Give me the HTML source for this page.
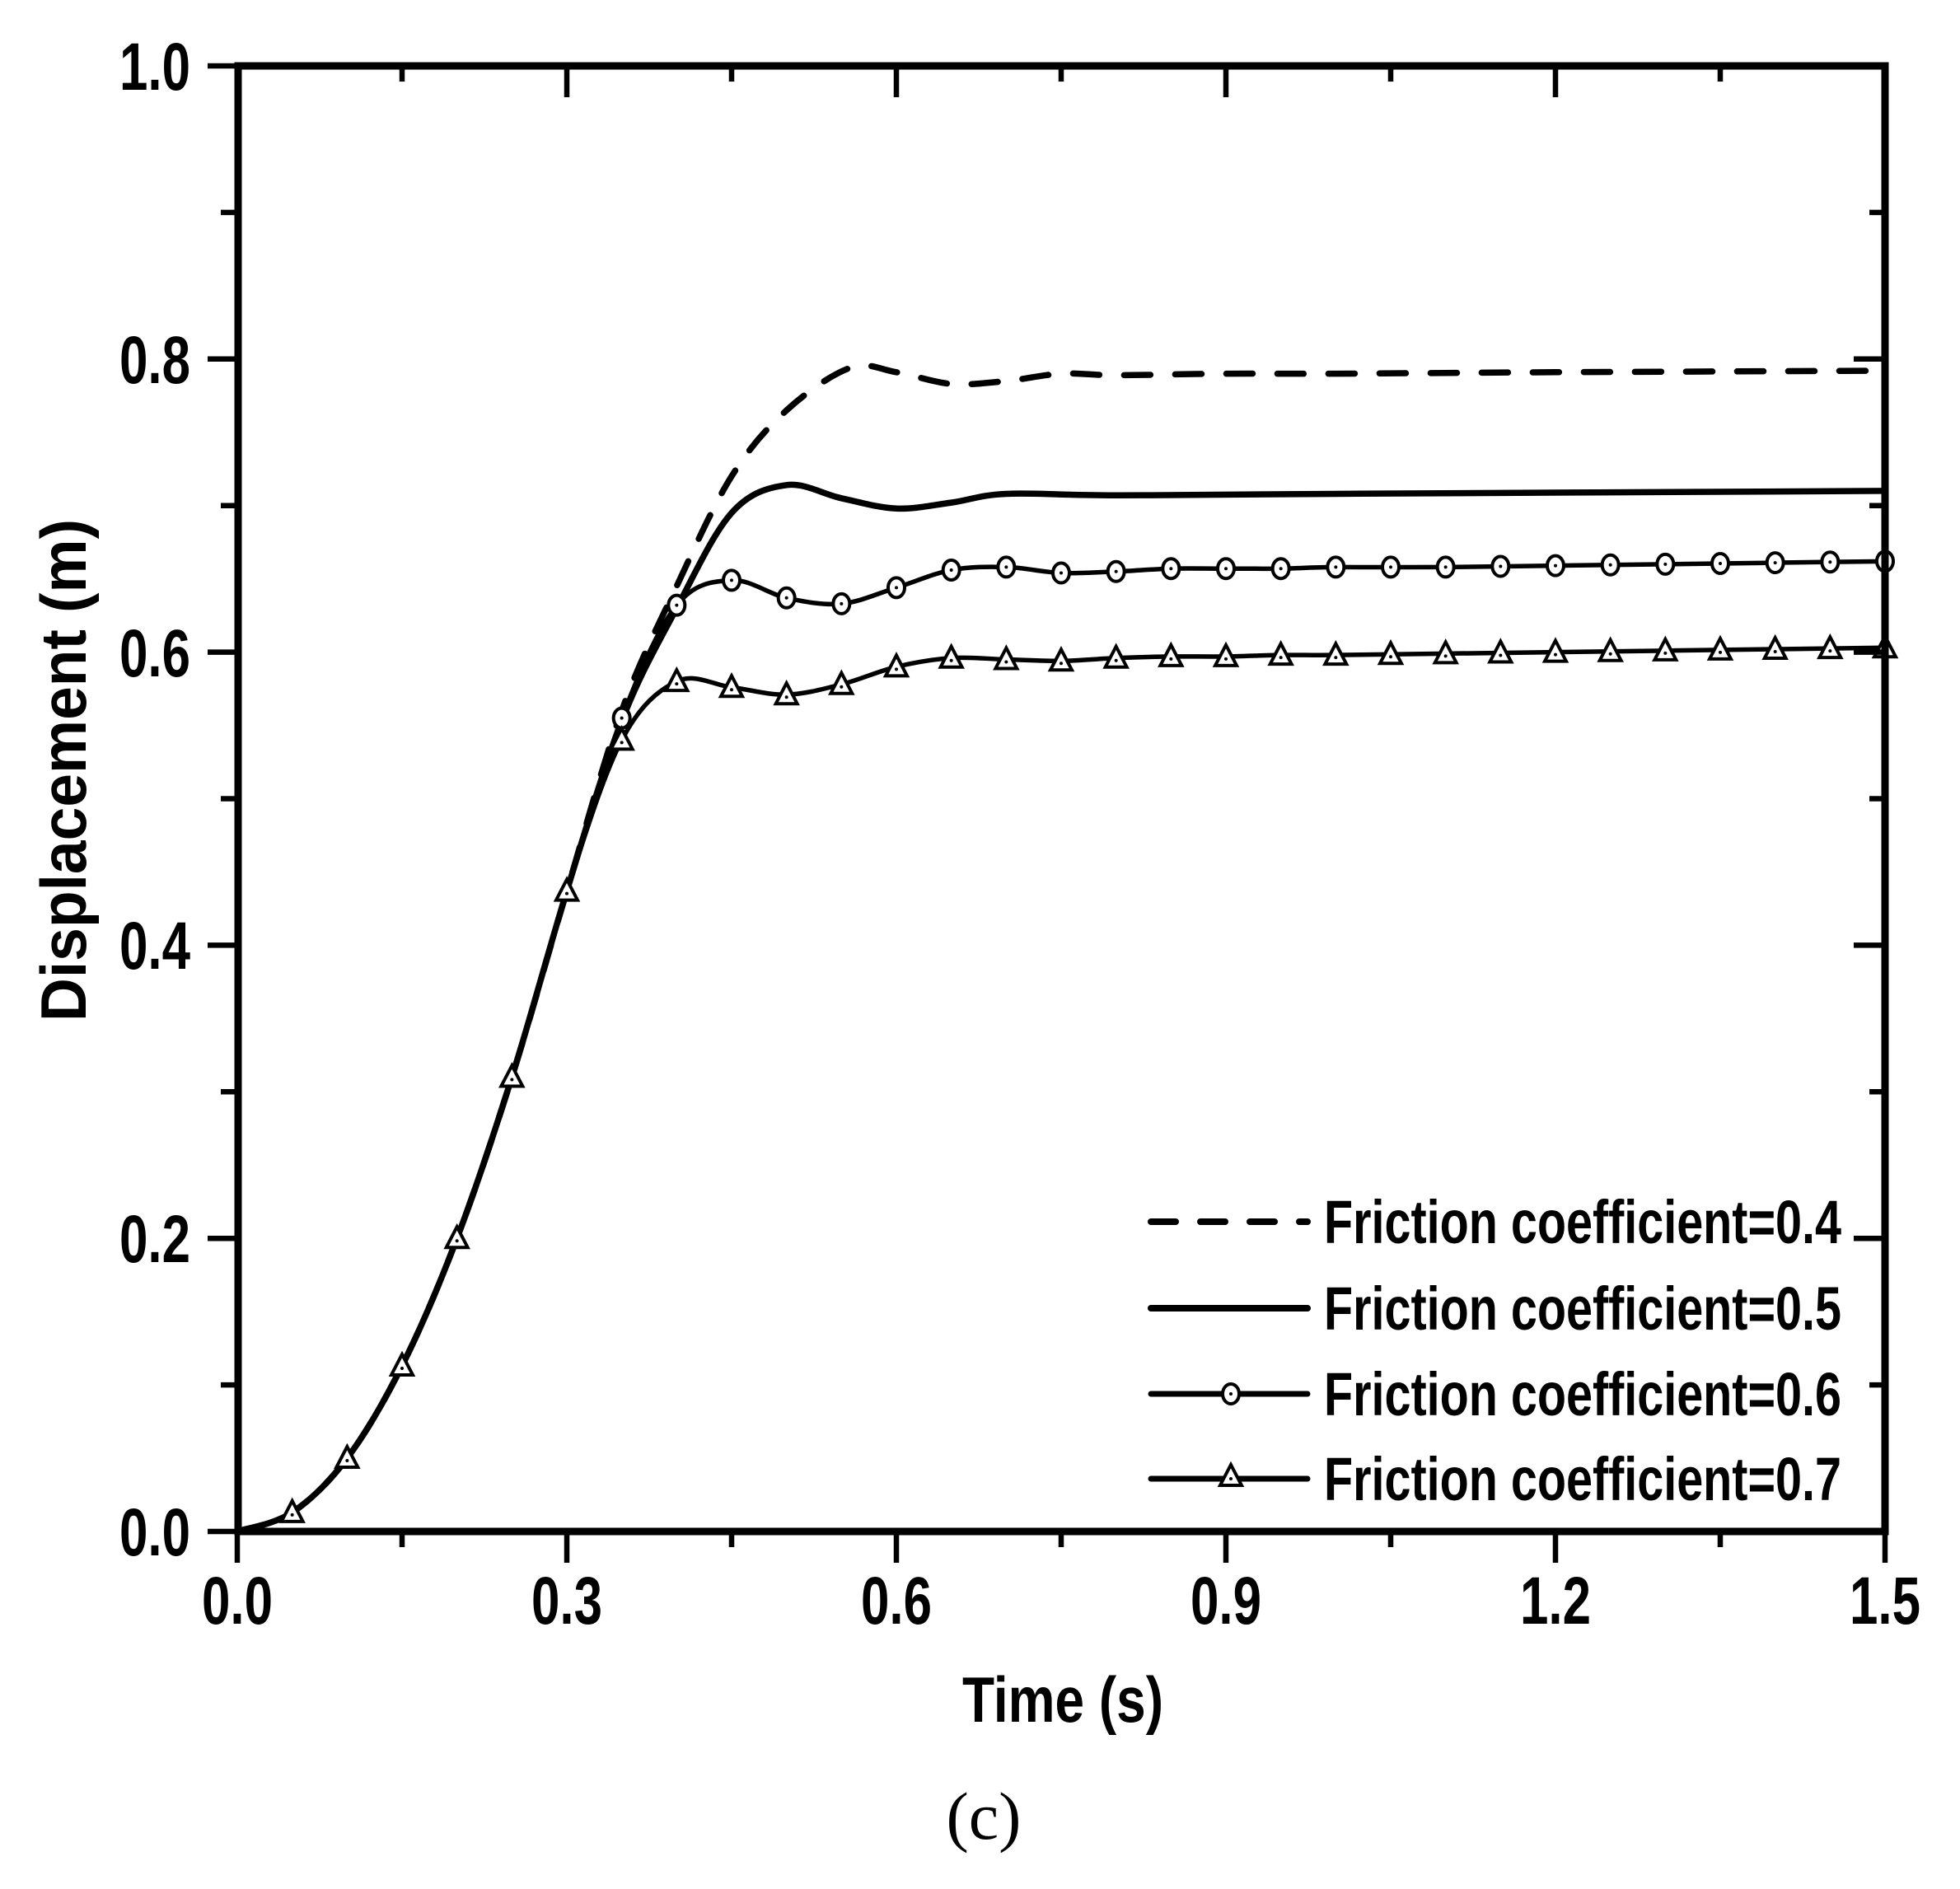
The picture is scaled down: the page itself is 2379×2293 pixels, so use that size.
<!DOCTYPE html>
<html><head><meta charset="utf-8"><style>
html,body{margin:0;padding:0;background:#fff}
svg{display:block}
text{font-family:"Liberation Sans",Arial,sans-serif;font-weight:bold;fill:#000}
</style></head><body>
<svg id="s" width="2379" height="2293" viewBox="0 0 2379 2293" xmlns="http://www.w3.org/2000/svg">
<g id="plot"></g>
<g stroke="#000" stroke-width="9" fill="none" stroke-linecap="square">
<rect x="289" y="80" width="1999" height="1779"/>
</g>
<g id="ticks" stroke="#000" stroke-width="6.5"></g>
<g font-size="82" text-anchor="end">
<text x="231" y="109" textLength="86" lengthAdjust="spacingAndGlyphs">1.0</text>
<text x="231" y="465" textLength="86" lengthAdjust="spacingAndGlyphs">0.8</text>
<text x="231" y="821" textLength="86" lengthAdjust="spacingAndGlyphs">0.6</text>
<text x="231" y="1176" textLength="86" lengthAdjust="spacingAndGlyphs">0.4</text>
<text x="231" y="1532" textLength="86" lengthAdjust="spacingAndGlyphs">0.2</text>
<text x="231" y="1888" textLength="86" lengthAdjust="spacingAndGlyphs">0.0</text>
</g>
<g font-size="82" text-anchor="middle">
<text x="288" y="1971" textLength="86" lengthAdjust="spacingAndGlyphs">0.0</text>
<text x="688" y="1971" textLength="86" lengthAdjust="spacingAndGlyphs">0.3</text>
<text x="1088" y="1971" textLength="86" lengthAdjust="spacingAndGlyphs">0.6</text>
<text x="1488" y="1971" textLength="86" lengthAdjust="spacingAndGlyphs">0.9</text>
<text x="1888" y="1971" textLength="86" lengthAdjust="spacingAndGlyphs">1.2</text>
<text x="2288" y="1971" textLength="86" lengthAdjust="spacingAndGlyphs">1.5</text>
</g>
<text x="1290" y="2090" font-size="78" text-anchor="middle" textLength="244" lengthAdjust="spacingAndGlyphs">Time (s)</text>
<text transform="translate(104,935) rotate(-90)" font-size="78" text-anchor="middle" textLength="610" lengthAdjust="spacingAndGlyphs">Displacement (m)</text>
<text x="1194" y="2232" font-size="82" text-anchor="middle" style="font-family:'Liberation Serif',serif;font-weight:normal">(c)</text>
<g font-size="74">
<text x="1607" y="1509" textLength="628" lengthAdjust="spacingAndGlyphs">Friction coefficient=0.4</text>
<text x="1607" y="1614" textLength="628" lengthAdjust="spacingAndGlyphs">Friction coefficient=0.5</text>
<text x="1607" y="1718" textLength="628" lengthAdjust="spacingAndGlyphs">Friction coefficient=0.6</text>
<text x="1607" y="1821" textLength="628" lengthAdjust="spacingAndGlyphs">Friction coefficient=0.7</text>
</g>
<g id="legend"></g>
</svg>
<script>
var NS="http://www.w3.org/2000/svg";
function X(t){return 288+t*1333.33}
function Y(v){return 1859-v*1779}
function el(n,a,p){var e=document.createElementNS(NS,n);for(var k in a)e.setAttribute(k,a[k]);(p||document.getElementById('plot')).appendChild(e);return e}
function path(pts){
 var P=pts.map(function(p){return [X(p[0]),Y(p[1])]});
 var d="M"+P[0][0]+","+P[0][1];
 for(var i=0;i<P.length-1;i++){
  var p0=P[i-1]||P[i],p1=P[i],p2=P[i+1],p3=P[i+2]||P[i+1];
  var c1=[p1[0]+(p2[0]-p0[0])/6,p1[1]+(p2[1]-p0[1])/6];
  var c2=[p2[0]-(p3[0]-p1[0])/6,p2[1]-(p3[1]-p1[1])/6];
  d+=" C"+c1[0]+","+c1[1]+" "+c2[0]+","+c2[1]+" "+p2[0]+","+p2[1];
 }
 return d;
}
var rise=[[0,0],[0.05,0.013],[0.1,0.05],[0.15,0.113],[0.2,0.2],[0.25,0.31],[0.3,0.437]];
var s4=rise.concat([[0.35,0.56],[0.4,0.645],[0.45,0.72],[0.5,0.765],[0.558,0.794],[0.6,0.791],[0.65,0.783],[0.7,0.785],[0.75,0.79],[0.8,0.789],[0.9,0.79],[1.0,0.79],[1.2,0.791],[1.5,0.792]]);
var s5=rise.concat([[0.35,0.553],[0.4,0.63],[0.45,0.695],[0.5,0.714],[0.55,0.705],[0.6,0.698],[0.65,0.702],[0.7,0.708],[0.8,0.707],[1.0,0.708],[1.5,0.71]]);
var s6=rise.concat([[0.35,0.555],[0.4,0.632],[0.45,0.649],[0.5,0.637],[0.55,0.633],[0.6,0.644],[0.65,0.656],[0.7,0.658],[0.75,0.654],[0.8,0.655],[0.85,0.657],[0.9,0.657],[0.95,0.657],[1.0,0.658],[1.1,0.658],[1.2,0.659],[1.3,0.66],[1.4,0.661],[1.5,0.662]]);
var s7=rise.concat([[0.35,0.54],[0.4,0.58],[0.45,0.576],[0.5,0.571],[0.55,0.578],[0.6,0.59],[0.65,0.596],[0.7,0.595],[0.75,0.594],[0.8,0.596],[0.85,0.597],[0.9,0.597],[0.95,0.598],[1.0,0.598],[1.1,0.599],[1.2,0.6],[1.3,0.601],[1.4,0.602],[1.5,0.603]]);
el('path',{d:path(s4),fill:'none',stroke:'#000','stroke-width':7.5,'stroke-dasharray':'32,30','stroke-linecap':'round'});
el('path',{d:path(s5),fill:'none',stroke:'#000','stroke-width':7.5});
el('path',{d:path(s6),fill:'none',stroke:'#000','stroke-width':5.5});
el('path',{d:path(s7),fill:'none',stroke:'#000','stroke-width':5.5});
function interp(s,t){for(var i=0;i<s.length-1;i++){if(t>=s[i][0]-1e-9&&t<=s[i+1][0]+1e-9){var f=(t-s[i][0])/(s[i+1][0]-s[i][0]);return s[i][1]+f*(s[i+1][1]-s[i][1]);}}return s[s.length-1][1]}
function circ(x,y,g){el('ellipse',{cx:x,cy:y,rx:10,ry:12,fill:'#fff',stroke:'#000','stroke-width':4},g);el('circle',{cx:x,cy:y,r:2,fill:'#000'},g)}
function tri(x,y,g){el('polygon',{points:(x)+","+(y-14)+" "+(x-13)+","+(y+11)+" "+(x+13)+","+(y+11),fill:'#fff',stroke:'#000','stroke-width':4},g);el('circle',{cx:x,cy:y+3,r:2,fill:'#000'},g)}
for(var k=7;k<=30;k++){var t=k*0.05;circ(X(t),Y(interp(s6,t)))}
for(var k=1;k<=30;k++){var t=k*0.05;tri(X(t),Y(interp(s7,t)))}
var tg=document.getElementById('ticks');
for(var i=0;i<=10;i++){var t=i*0.15,x=X(t),maj=i%2==0;
 el('line',{x1:x,y1:1859,x2:x,y2:maj?1897:1878},tg);
 el('line',{x1:x,y1:80,x2:x,y2:maj?118:99},tg);}
for(var i=0;i<=10;i++){var v=i*0.1,y=Y(v),maj=i%2==0;
 el('line',{x1:289,y1:y,x2:maj?252:268,y2:y},tg);
 el('line',{x1:2288,y1:y,x2:maj?2250:2269,y2:y},tg);}
var lg=document.getElementById('legend');
el('line',{x1:1397,y1:1483,x2:1587,y2:1483,stroke:'#000','stroke-width':8,'stroke-dasharray':'30,30','stroke-linecap':'round'},lg);
el('line',{x1:1397,y1:1588,x2:1587,y2:1588,stroke:'#000','stroke-width':8,'stroke-linecap':'round'},lg);
el('line',{x1:1397,y1:1692,x2:1587,y2:1692,stroke:'#000','stroke-width':7,'stroke-linecap':'round'},lg);
el('line',{x1:1397,y1:1795,x2:1587,y2:1795,stroke:'#000','stroke-width':7,'stroke-linecap':'round'},lg);
circ(1494,1692,lg);tri(1494,1792,lg);
</script>
</body></html>
